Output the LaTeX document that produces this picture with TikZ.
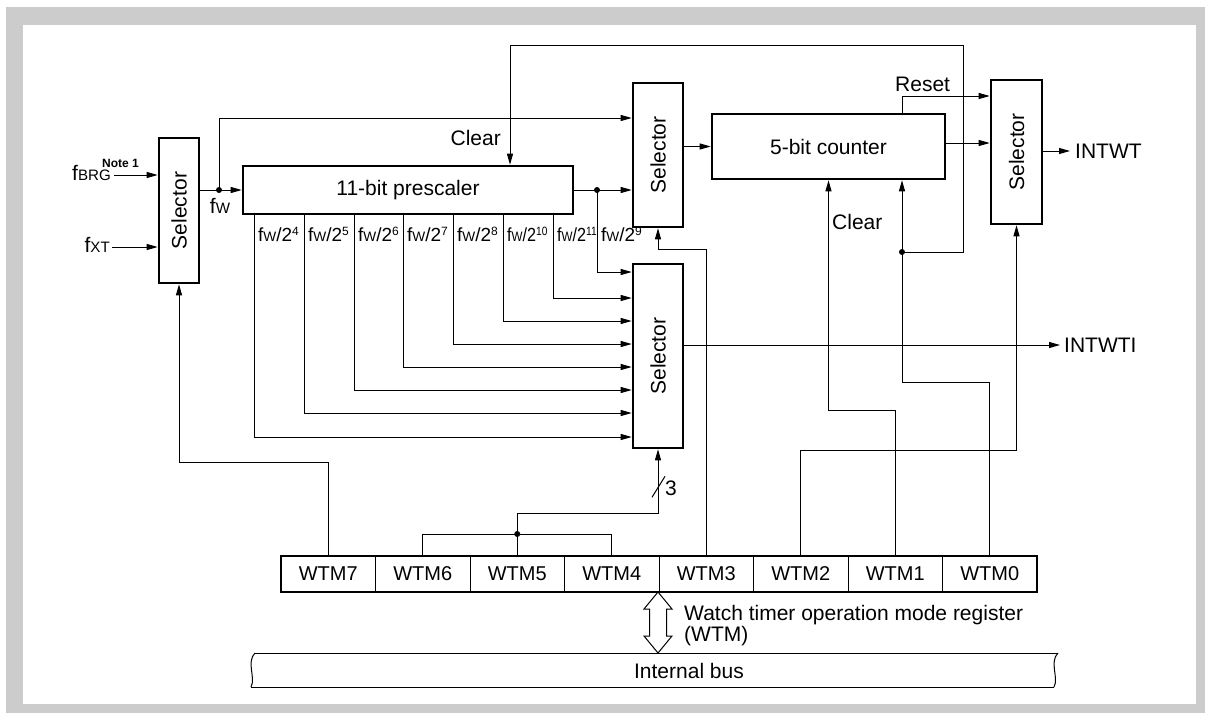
\documentclass[tikz,border=0pt]{standalone}
\usepackage{fontspec}
\setmainfont{Liberation Sans}
\usetikzlibrary{arrows.meta,calc}
\definecolor{framegray}{HTML}{CCCCCC}
\newcommand{\smc}[1]{\scalebox{0.72}{#1}}
\newcommand{\sups}[1]{\raisebox{6pt}{\fontsize{12}{12}\selectfont #1}}
\begin{document}
\begin{tikzpicture}[x=1pt,y=-1pt,
 every node/.style={font=\fontsize{21}{25}\selectfont, inner sep=0pt},
 blk/.style={draw, line width=2.6pt, inner sep=0pt},
 ln/.style={line width=1pt},
 arr/.style={line width=1pt, -{Triangle[length=11pt,width=6pt]}},
 dot/.style={circle, fill, minimum size=6pt, inner sep=0pt},
 cell/.style={draw, line width=1pt, outer sep=0pt, minimum width=94.5pt, minimum height=36pt, font=\fontsize{20}{24}\selectfont},
 tap/.style={font=\fontsize{19}{20}\selectfont, anchor=base west}
]
\useasboundingbox (0,0) rectangle (1211,720);
\fill[framegray] (6,7) rectangle (1205,713);
\fill[white] (23,25) rectangle (1196,704);

% blocks
\node[blk, minimum width=40pt, minimum height=145pt] (selL) at (179,210.5) {};
\node[rotate=90] (selLt) at (selL) {Selector};
\node[blk, minimum width=330pt, minimum height=48pt] (pre) at (408,190) {11-bit prescaler};
\node[blk, minimum width=50pt, minimum height=144pt] (sel1) at (658,155) {};
\node[rotate=90] (sel1t) at (sel1) {Selector};
\node[blk, minimum width=233pt, minimum height=65pt] (cnt) at (828.5,146.5) {5-bit counter};
\node[blk, minimum width=51pt, minimum height=144pt] (sel3) at (1016.5,152) {};
\node[rotate=90] (sel3t) at (sel3) {Selector};
\node[blk, minimum width=50pt, minimum height=184pt] (sel2) at (658,356) {};
\node[rotate=90] (sel2t) at (sel2) {Selector};

% inputs
\coordinate (brg) at (114,175);
\coordinate (xt) at (112,247);
\draw[arr] (brg) -- (selL.west |- brg);
\draw[arr] (xt) -- (selL.west |- xt);
\node[anchor=base east] (tbrg) at (111,180) {f\smc{BRG}};
\node[anchor=base west, font=\bfseries\fontsize{12}{12}\selectfont] (note) at (102,167) {Note 1};
\node[anchor=base east] (txt) at (110,252) {f\smc{XT}};

% fw
\coordinate (fwdot) at (219,190);
\coordinate (fwup) at (219,118);
\draw[arr] (selL.east |- fwdot) -- (pre.west |- fwdot);
\draw[arr] (fwdot) -- (fwup) -- (sel1.west |- fwup);
\node[dot] (d1) at (fwdot) {};
\node[anchor=base] (tfw) at (220,213) {f\smc{W}};

% prescaler out
\coordinate (pdot) at (597,190);
\coordinate (p9) at (597,272);
\draw[arr] (pre.east |- pdot) -- (sel1.west |- pdot);
\draw[arr] (pdot) -- (p9) -- (sel2.west |- p9);
\node[dot] (d2) at (pdot) {};

% taps
\foreach \x/\y/\e in {254/437/4, 304/413/5, 354/390/6, 403/367/7, 453/344/8}{
  \draw[arr] (pre.south -| \x,0) -- (\x,\y) -- (sel2.west |- \x,\y);
  \node[tap] (t\e) at (\x+4,241) {f\smc{W}/2\sups{\e}};
}
\foreach \x/\y/\e in {503/321/10, 553/298/11}{
  \draw[arr] (pre.south -| \x,0) -- (\x,\y) -- (sel2.west |- \x,\y);
  \node[tap] (t\e) at (\x+4,241) {\scalebox{0.85}[1]{f\smc{W}/2\sups{\e}}};
}
\node[tap] (t9) at (601,241) {f\smc{W}/2\sups{9}};

% selector1 -> counter
\draw[arr] (sel1.east |- cnt.west) -- (cnt.west);

% reset
\coordinate (rs) at (902,96);
\draw[arr] (cnt.north -| rs) -- (rs) -- (sel3.west |- rs);
\node[anchor=base west] (treset) at (895,91) {Reset};

% counter out
\draw[arr] (cnt.east |- 0,143) -- (sel3.west |- 0,143);
\coordinate (o3) at (1070,151);
\draw[arr] (sel3.east |- o3) -- (o3);
\node[anchor=west] (tintwt) at (1075,151) {INTWT};
\coordinate (o2) at (1060,345);
\draw[arr] (sel2.east |- o2) -- (o2);
\node[anchor=west] (tintwti) at (1064,345) {INTWTI};

% register
\foreach \i/\n in {0/7,1/6,2/5,3/4,4/3,5/2,6/1,7/0}{
  \node[cell] (w\n) at (328.25+94.5*\i, 574) {WTM\n};
}
\draw[line width=2.6pt] (w7.north west) rectangle (w0.south east);

% register lines
\draw[arr] (w7.north) -- (w7.north |- 0,462) -- (selL.south |- 0,462) -- (selL.south);
\draw[ln] (w6.north) -- (w6.north |- 0,534) -- (w4.north |- 0,534) -- (w4.north);
\draw[arr] (w5.north) -- (w5.north |- 0,513) -- (sel2.south |- 0,513) -- (sel2.south);
\node[dot] (d3) at (w5.north |- 0,534) {};
\draw[ln] ($(sel2.south)+(-6,48)$) -- ($(sel2.south)+(7,27)$);
\node[anchor=west] (t3) at (665,488) {3};
\draw[arr] (w3.north) -- (w3.north |- 0,249) -- (sel1.south |- 0,249) -- (sel1.south);
\draw[arr] (w2.north) -- (w2.north |- 0,450) -- (sel3.south |- 0,450) -- (sel3.south);
\draw[arr] (w1.north) -- (w1.north |- 0,410) -- (cnt.south |- 0,410) -- (cnt.south);
\coordinate (cd) at (902,252);
\draw[arr] (w0.north) -- (w0.north |- 0,382) -- (cd |- 0,382) -- (cnt.south -| cd);
\node[dot] (d4) at (cd) {};
\draw[arr] (cd) -- (963,252) -- (963,45) -- (510,45) -- (pre.north -| 510,0);
\node[anchor=east] (tclr1) at (501,138) {Clear};
\node[anchor=west] (tclr2) at (832,222) {Clear};

% double arrow
\draw[line width=1pt, fill=white] (658,592) -- (672,609) -- (666.5,609) -- (666.5,636) -- (672,636) -- (658,653) -- (644,636) -- (649.5,636) -- (649.5,609) -- (644,609) -- cycle;
\node[anchor=base west] (twtm1) at (684,620) {Watch timer operation mode register};
\node[anchor=base west] (twtm2) at (684,641) {(WTM)};

% internal bus
\draw[ln] (255,653) -- (1058,653);
\draw[ln] (251,687) -- (1054,687);
\draw[ln] (255,653) .. controls (246,662) and (256,678) .. (251,687);
\draw[ln] (1058,653) .. controls (1049,662) and (1059,678) .. (1054,687);
\node (tbus) at (689,671) {Internal bus};
\end{tikzpicture}
\end{document}
